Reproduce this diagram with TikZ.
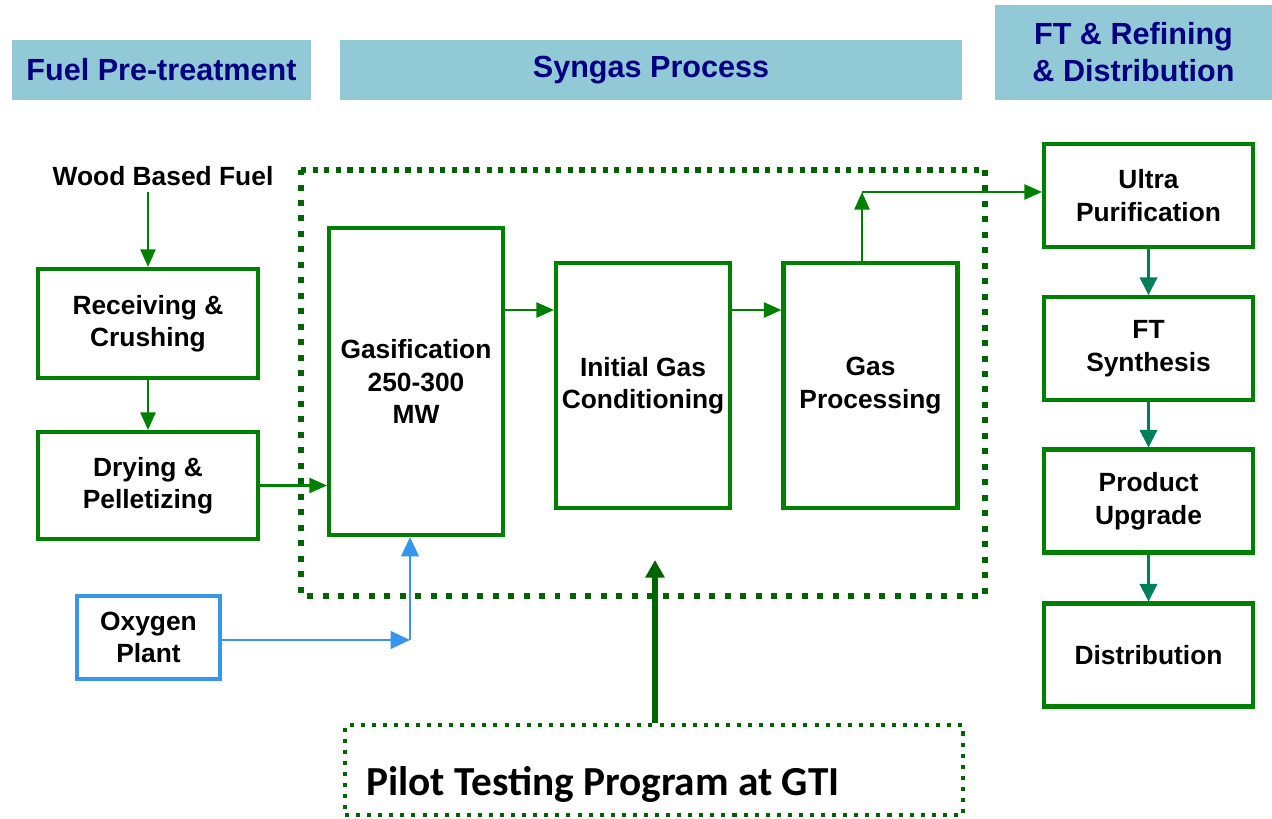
\documentclass[tikz,border=0pt]{standalone}
\usepackage{fontspec}
\setmainfont{Liberation Sans}
\newfontfamily\pilotfont{Carlito}
\usetikzlibrary{arrows.meta,positioning}

\definecolor{boxgreen}{RGB}{0,128,0}
\definecolor{dotgreen}{RGB}{0,100,0}
\definecolor{teal}{RGB}{0,128,90}
\definecolor{oxblue}{RGB}{55,150,235}
\definecolor{headfill}{RGB}{146,201,214}
\definecolor{headtext}{RGB}{0,0,128}

\tikzset{
  head/.style={fill=headfill, text=headtext, align=center, inner sep=0pt,
    font=\fontsize{17.4}{21}\selectfont\bfseries},
  stage/.style={draw=boxgreen, line width=2.3pt, align=center, inner sep=2pt,
    minimum width=4.40cm, minimum height=2.18cm,
    font=\fontsize{15}{18.5}\selectfont\bfseries},
  feed/.style={draw=oxblue, line width=2.3pt, align=center, inner sep=2pt,
    font=\fontsize{15}{18.5}\selectfont\bfseries},
  flow/.style={draw=boxgreen, line width=1.4pt, -{Triangle[length=10pt,width=8.5pt]}},
  oxflow/.style={draw=oxblue, line width=1.4pt, -{Triangle[length=11pt,width=10pt]}},
  ftflow/.style={draw=teal, line width=1.2pt, -{Triangle[length=10pt,width=10pt]}},
  dotbox/.style={draw=dotgreen, line width=3.4pt, dash pattern=on 3.4pt off 5.4pt},
  dottop/.style={draw=dotgreen, line width=3.2pt, dash pattern=on 3pt off 3.6pt},
  pilotbox/.style={draw=dotgreen, line width=2.3pt, dash pattern=on 2.3pt off 4pt,
    minimum width=12.36cm, minimum height=1.8cm, inner sep=0pt},
  pilotarrow/.style={draw=dotgreen, line width=3.4pt, -{Triangle[length=10pt,width=10.5pt]}}
}

\begin{document}
\begin{tikzpicture}
    \useasboundingbox (0,0) rectangle (25.44,16.36);

    % Section headers
    \node[head, minimum width=5.98cm, minimum height=1.2cm] (hfuel) at (3.23,14.96) {Fuel Pre-treatment};
    \node[head, minimum width=12.44cm, minimum height=1.2cm] (hsyn) at (13.02,14.96) {Syngas Process};
    \node[head, minimum width=5.54cm, minimum height=1.9cm] (hft) at (22.67,15.31) {FT \& Refining\\\& Distribution};

    % Fuel pre-treatment
    \node[font=\fontsize{15}{18.5}\selectfont\bfseries] (wood) at (3.26,12.84) {Wood Based Fuel};
    \node[stage] (rec) at (2.96,9.89) {Receiving \&\\Crushing};
    \node[stage, minimum height=2.14cm] (dry) at (2.96,6.65) {Drying \&\\Pelletizing};
    \node[feed, minimum width=2.86cm, minimum height=1.66cm] (oxy) at (2.97,3.61) {Oxygen\\Plant};

    % Syngas process
    \draw[dotbox] (19.70,12.96) -- (19.70,4.44) -- (6.02,4.44) -- (6.02,12.96);
    \draw[dottop] (6.02,12.96) -- (19.70,12.96);
    \node[stage, minimum width=3.48cm, minimum height=6.14cm] (gas) at (8.32,8.73) {Gasification\\250-300\\MW};
    \node[stage, minimum width=3.48cm, minimum height=4.90cm] (igc) at (12.86,8.65) {Initial Gas\\Conditioning};
    \node[stage, minimum width=3.48cm, minimum height=4.90cm] (gpr) at (17.41,8.65) {Gas\\Processing};

    % FT, refining and distribution
    \node[stage, minimum width=4.18cm, minimum height=2.06cm] (ultra) at (22.97,12.45) {Ultra\\Purification};
    \node[stage, minimum width=4.18cm, minimum height=2.06cm] (fts) at (22.97,9.39) {FT\\Synthesis};
    \node[stage, minimum width=4.18cm, minimum height=2.06cm] (upg) at (22.97,6.34) {Product\\Upgrade};
    \node[stage, minimum width=4.18cm, minimum height=2.06cm] (dist) at (22.97,3.26) {Distribution};

    % Pilot program
    \node[pilotbox] (pilot) at (13.08,0.96) {};
    \node[anchor=base west, font=\pilotfont\fontsize{23.5}{28}\selectfont\bfseries] (pilotlbl) at (7.2,0.46) {Pilot Testing Program at GTI};

    % Connectors
    \coordinate (row) at (0,10.16);
    \coordinate (oxc) at (8.2,3.56);
    \coordinate (gpc) at (17.24,12.52);
    \coordinate (pilottip) at (13.1,5.16);

    \draw[flow] (rec.north |- wood.south) -- (rec.north);
    \draw[flow] (rec) -- (dry);
    \draw[flow] (dry.east) -- (gas.west |- dry.east);
    \draw[oxflow] (oxy.east |- oxc) -- (oxc);
    \draw[oxflow] (oxc) -- (oxc |- gas.south);
    \draw[flow] (gas.east |- row) -- (igc.west |- row);
    \draw[flow] (igc.east |- row) -- (gpr.west |- row);
    \draw[flow] (gpc |- gpr.north) -- (gpc);
    \draw[flow] (gpc) -- (ultra.west |- gpc);
    \draw[ftflow] (ultra) -- (fts);
    \draw[ftflow] (fts) -- (upg);
    \draw[ftflow] (upg) -- (dist);
    \draw[pilotarrow] (pilot.north -| pilottip) -- (pilottip);
\end{tikzpicture}
\end{document}
